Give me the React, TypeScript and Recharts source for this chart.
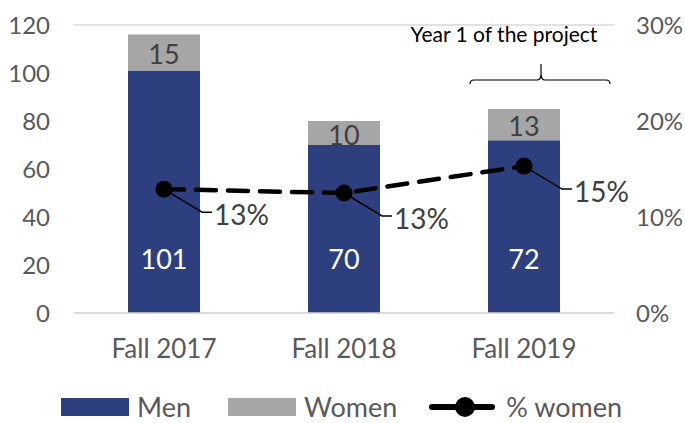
import React from 'react';
import {
  ComposedChart, Bar, Line, XAxis, YAxis, CartesianGrid, LabelList, Legend,
} from 'recharts';

const categories = ['Fall 2017', 'Fall 2018', 'Fall 2019'];
const men = [101, 70, 72];
const women = [15, 10, 13];
const pctWomen = [0.129, 0.125, 0.153];
const pctLabels = ['13%', '13%', '15%'];
const leftTicks = [0, 20, 40, 60, 80, 100, 120];
const rightTicks = [0, 0.1, 0.2, 0.3];

const data = categories.map((c, i) => ({
  name: c,
  men: men[i],
  women: women[i],
  pct: pctWomen[i],
}));

const FONT = 'Lato, "Open Sans", sans-serif';
const MEN_COLOR = '#2E3F80';
const WOMEN_COLOR = '#A6A6A6';
const TEXT_COLOR = '#595959';

const MenLabel = (props: any) => {
  const { x, y, width, height, value } = props;
  return (
    <text
      x={x + width / 2}
      y={y + height - 55}
      textAnchor="middle"
      dominantBaseline="central"
      fill="#ffffff"
      fontSize={27}
      fontFamily={FONT}
    >
      {value}
    </text>
  );
};

const WomenLabel = (props: any) => {
  const { x, y, width, height, value } = props;
  return (
    <text
      x={x + width / 2}
      y={y + height / 2 + 1}
      textAnchor="middle"
      dominantBaseline="central"
      fill="#404040"
      fontSize={27}
      fontFamily={FONT}
    >
      {value}
    </text>
  );
};

const PctLabel = (props: any) => {
  const { x, y, index } = props;
  const lx = x + 38;
  const ly = y + 23;
  return (
    <g>
      <polyline
        points={`${x},${y} ${lx},${ly} ${lx + 10},${ly}`}
        fill="none"
        stroke="#000"
        strokeWidth={1.5}
      />
      <text
        x={lx + 12}
        y={ly + 2}
        textAnchor="start"
        dominantBaseline="central"
        fill="#404040"
        fontSize={28}
        fontFamily={FONT}
      >
        {pctLabels[index]}
      </text>
    </g>
  );
};

const Dot = (props: any) => {
  const { cx, cy } = props;
  return <circle cx={cx} cy={cy} r={8.5} fill="#000" stroke="none" />;
};

const LegendContent = () => (
  <div
    style={{
      display: 'flex',
      justifyContent: 'flex-start',
      alignItems: 'center',
      fontFamily: FONT,
      fontSize: 27,
      lineHeight: '30px',
      color: TEXT_COLOR,
      paddingLeft: 61,
      height: 30,
    }}
  >
    <span style={{ display: 'inline-block', width: 68, height: 18, background: MEN_COLOR, marginRight: 8 }} />
    <span style={{ marginRight: 37 }}>Men</span>
    <span style={{ display: 'inline-block', width: 68, height: 18, background: WOMEN_COLOR, marginRight: 8 }} />
    <span style={{ marginRight: 32 }}>Women</span>
    <svg width={66} height={24} style={{ marginRight: 11 }}>
      <line x1={3} y1={12} x2={63} y2={12} stroke="#000" strokeWidth={6} strokeLinecap="round" />
      <circle cx={36} cy={12} r={10} fill="#000" />
    </svg>
    <span>% women</span>
  </div>
);

export default function App() {
  return (
    <div style={{ position: 'absolute', left: 0, top: 0, width: 686, height: 423, background: '#fff' }}>
      <ComposedChart
        width={686}
        height={423}
        data={data}
        margin={{ top: 25, right: 12, bottom: 0, left: 14 }}
      >
        <CartesianGrid vertical={false} stroke="#D9D9D9" strokeWidth={1.5} />
        <XAxis
          dataKey="name"
          axisLine={{ stroke: '#D9D9D9', strokeWidth: 1.5 }}
          tickLine={false}
          tickSize={0}
          tickMargin={27}
          height={80}
          tick={{ fill: TEXT_COLOR, fontSize: 26, fontFamily: FONT }}
        />
        <YAxis
          yAxisId="left"
          domain={[0, 120]}
          ticks={leftTicks}
          width={60}
          axisLine={false}
          tickLine={false}
          tickSize={0}
          tickMargin={24}
          tick={{ fill: TEXT_COLOR, fontSize: 24, fontFamily: FONT }}
        />
        <YAxis
          yAxisId="right"
          orientation="right"
          domain={[0, 0.3]}
          ticks={rightTicks}
          width={60}
          axisLine={false}
          tickLine={false}
          tickSize={0}
          tickMargin={22}
          tickFormatter={(v: number) => `${Math.round(v * 100)}%`}
          tick={{ fill: TEXT_COLOR, fontSize: 24, fontFamily: FONT, textAnchor: 'start' }}
        />
        <Legend verticalAlign="bottom" align="left" height={30} wrapperStyle={{ left: 0, width: 686, bottom: 1 }} content={<LegendContent />} />
        <Bar yAxisId="left" dataKey="men" stackId="a" fill={MEN_COLOR} barSize={72} isAnimationActive={false}>
          <LabelList dataKey="men" content={<MenLabel />} />
        </Bar>
        <Bar yAxisId="left" dataKey="women" stackId="a" fill={WOMEN_COLOR} barSize={72} isAnimationActive={false}>
          <LabelList dataKey="women" content={<WomenLabel />} />
        </Bar>
        <Line
          yAxisId="right"
          dataKey="pct"
          stroke="#000"
          strokeWidth={4.5}
          strokeDasharray="20 12"
          strokeLinecap="round"
          dot={<Dot />}
          activeDot={false}
          isAnimationActive={false}
        >
          <LabelList dataKey="pct" content={<PctLabel />} />
        </Line>
        <g>
          <text x={504} y={33} textAnchor="middle" dominantBaseline="central" fontSize={21} fill="#000" fontFamily={FONT}>
            Year 1 of the project
          </text>
          <path d="M470,84 Q470,80 474,80 L537,80 Q541,80 541,74 L541,64 M541,74 Q541,80 545,80 L606,80 Q610,80 610,84" fill="none" stroke="#000" strokeWidth={1.2} />
        </g>
      </ComposedChart>
    </div>
  );
}
